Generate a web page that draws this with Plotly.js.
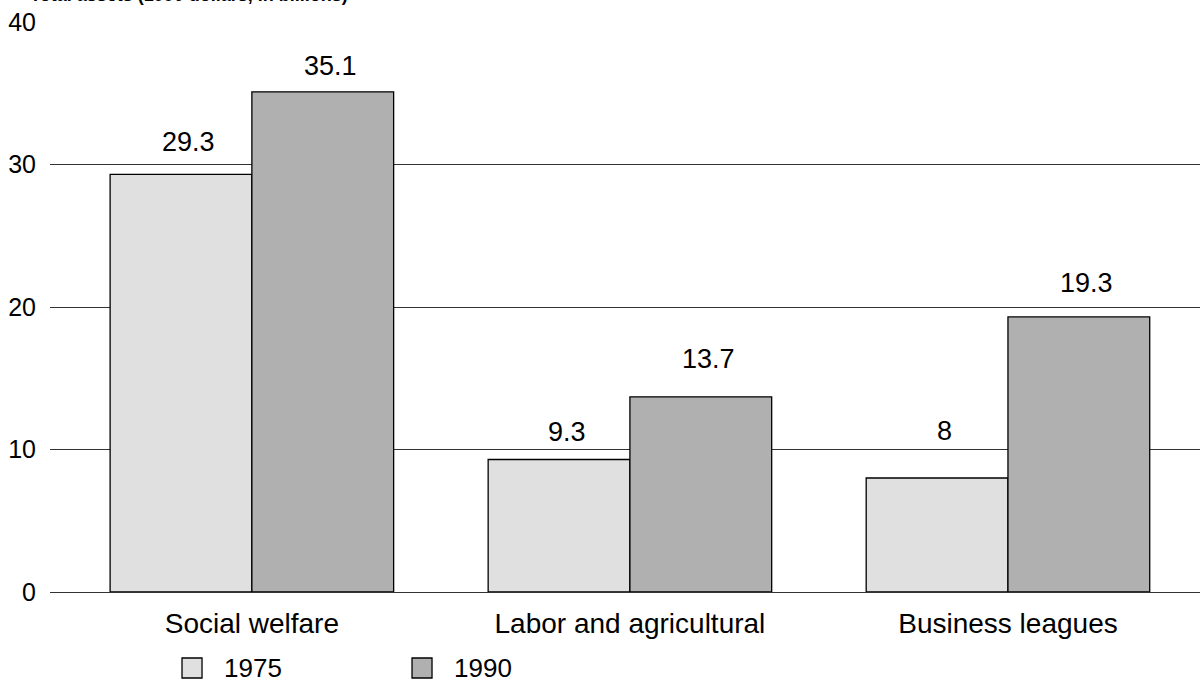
<!DOCTYPE html>
<html>
<head>
<meta charset="utf-8">
<script src="https://cdn.plot.ly/plotly-3.0.1.min.js"></script>
<style>html,body{margin:0;padding:0;background:#fff;}#chart{width:1200px;height:686px;}</style>
</head>
<body>
<div id="chart"></div>
<script>
const categories = ["Social welfare", "Labor and agricultural", "Business leagues"];
const seriesNames = ["1975", "1990"];
const values1975 = [29.3, 9.3, 8];
const values1990 = [35.1, 13.7, 19.3];
const yTicks = [0, 10, 20, 30, 40];
const axisTitle = "Total assets (1990 dollars, in billions)";

// styling (pixel offsets of value labels above bar tops, as placed in the reference)
const FONT = "Arial, 'Liberation Sans', sans-serif";
const colors = ["#e0e0e0", "#b0b0b0"];
const labelLift = [[32, 27, 47], [26, 38, 34]];
const allValues = [values1975, values1990];

const traces = allValues.map((vals, i) => ({
  type: "bar",
  name: seriesNames[i],
  x: categories,
  y: vals,
  showlegend: false,
  marker: {color: colors[i], line: {color: "#000", width: 1.3}},
  hoverinfo: "x+y+name"
}));

const annotations = [];
allValues.forEach((vals, i) => {
  vals.forEach((v, j) => {
    annotations.push({
      x: categories[j], y: v, xref: "x", yref: "y",
      text: String(v), showarrow: false,
      xanchor: "center", yanchor: "middle",
      xshift: (i === 0 ? -71 : 71) + 8, yshift: labelLift[i][j],
      font: {family: FONT, size: 27, color: "#000"}
    });
  });
});
annotations.push({
  xref: "paper", yref: "paper", x: 0, y: 1,
  xanchor: "left", yanchor: "bottom", xshift: -22, yshift: 15,
  text: "<b>" + axisTitle + "</b>", showarrow: false,
  font: {family: FONT, size: 18, color: "#000"}
});

// manual legend (plot domain: 1150 px wide, 570 px tall)
const shapes = [];
seriesNames.forEach((name, i) => {
  const x0 = 0.1148 + i * 0.2;
  shapes.push({
    type: "rect", xref: "paper", yref: "paper",
    x0: x0, x1: x0 + 20 / 1150, y0: -0.1509, y1: -0.1158,
    fillcolor: colors[i], line: {color: "#000", width: 1.3}
  });
  annotations.push({
    xref: "paper", yref: "paper", x: x0 + 40 / 1150, y: -0.1333,
    xanchor: "left", yanchor: "middle", text: name, showarrow: false,
    font: {family: FONT, size: 26, color: "#000"}
  });
});

const layout = {
  width: 1200, height: 686,
  margin: {l: 50, r: 0, t: 22, b: 94, pad: 0},
  paper_bgcolor: "#fff", plot_bgcolor: "#fff",
  font: {family: FONT, size: 26, color: "#000"},
  barmode: "group",
  bargap: 0.25, bargroupgap: 0,
  showlegend: false,
  xaxis: {
    type: "category", range: [-0.534, 2.508],
    showgrid: false, zeroline: false, showline: false, ticks: "",
    ticklabelstandoff: 12,
    tickfont: {family: FONT, size: 28, color: "#000"}
  },
  yaxis: {
    range: [0, 40], tickvals: yTicks, ticktext: yTicks.map(String),
    showgrid: true, gridcolor: "#333", gridwidth: 1,
    zeroline: true, zerolinecolor: "#333", zerolinewidth: 1,
    showline: false, ticks: "",
    ticklabelstandoff: 13,
    tickfont: {family: FONT, size: 25, color: "#000"}
  },
  shapes: shapes,
  annotations: annotations
};

Plotly.newPlot("chart", traces, layout, {displayModeBar: false, staticPlot: true});
</script>
</body>
</html>
